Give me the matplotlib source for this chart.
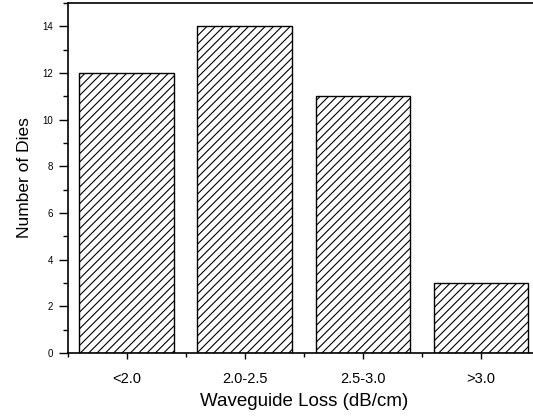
import matplotlib.pyplot as plt
from matplotlib.ticker import MultipleLocator, FixedLocator

categories = ['<2.0', '2.0-2.5', '2.5-3.0', '>3.0']
dies = [12, 14, 11, 3]

plt.rcParams['font.family'] = ['Liberation Sans', 'DejaVu Sans']
plt.rcParams['hatch.linewidth'] = 0.8

fig = plt.figure(figsize=(5.33, 4.17), dpi=100)
# right edge of the axes lies just past the figure, as in the reference
ax = fig.add_axes([67.5 / 533, 64 / 417, 472.5 / 533, 350 / 417])

pos = list(range(1, len(categories) + 1))
ax.bar(pos, dies, width=0.8, color='white', edgecolor='black', linewidth=1.0, hatch='////')

ax.set_xlim(0.5, 4.5)
ax.set_ylim(0, 15)
ax.set_xticks(pos)
ax.set_xticklabels(categories, fontsize=10.5)
ax.xaxis.set_minor_locator(FixedLocator([0.5, 1.5, 2.5, 3.5]))
ax.yaxis.set_major_locator(MultipleLocator(2))
ax.yaxis.set_minor_locator(MultipleLocator(1))
ax.set_yticks(range(0, 15, 2))
ax.tick_params(axis='y', which='major', direction='out', length=6.5, width=1, labelsize=7, pad=4)
ax.tick_params(axis='y', which='minor', direction='out', length=3.5, width=1)
ax.tick_params(axis='x', which='major', direction='out', length=4.5, width=1, pad=9)
ax.tick_params(axis='x', which='minor', direction='out', length=3, width=1)

for s in ax.spines.values():
    s.set_linewidth(1.2)

ax.set_xlabel('Waveguide Loss (dB/cm)', fontsize=13.5, labelpad=5)
ax.set_ylabel('Number of Dies', fontsize=12.5, labelpad=7)

fig.savefig('out.png', dpi=100)
